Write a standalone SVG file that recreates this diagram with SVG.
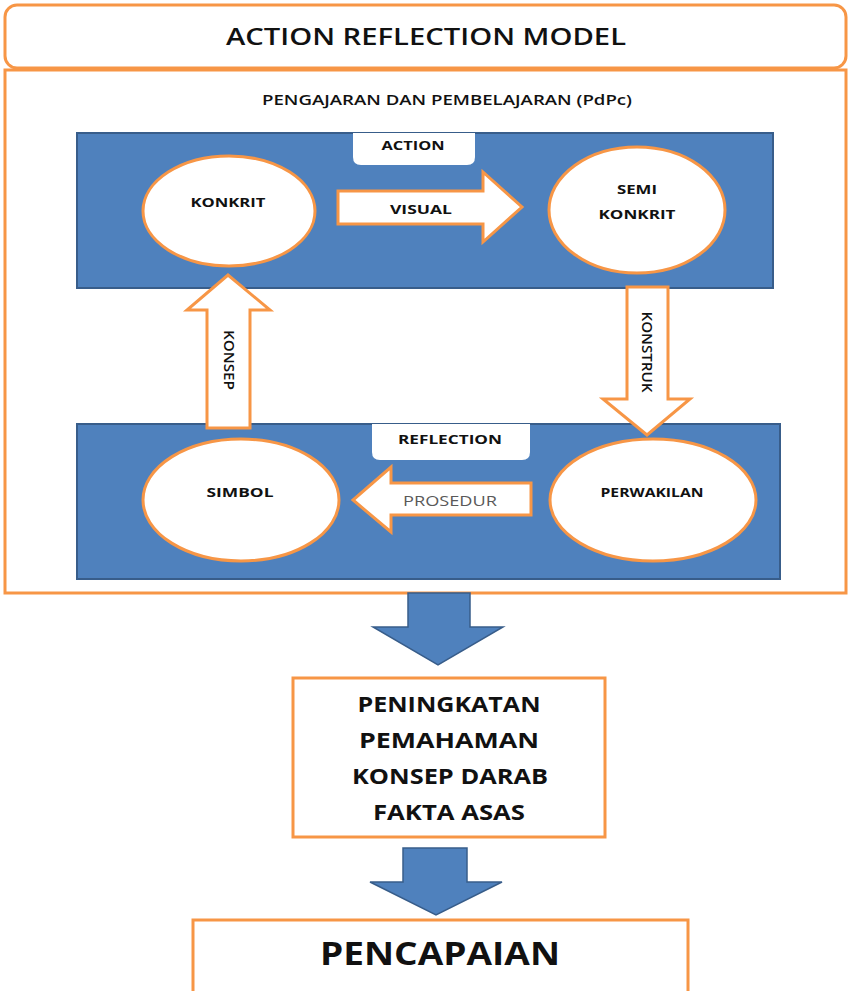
<svg xmlns="http://www.w3.org/2000/svg" width="849" height="991" viewBox="0 0 849 991">
<style>
.ob{fill:#fff;stroke:#F79646;stroke-width:3}
.blue{fill:#4F81BD;stroke:#385D8A;stroke-width:2}
.arr{fill:#fff;stroke:#F79646;stroke-width:3;stroke-linejoin:miter}
.barr{fill:#4F81BD;stroke:#385D8A;stroke-width:1.5}
text{font-family:"Open Sans","Liberation Sans",sans-serif;fill:#111;text-anchor:middle;dominant-baseline:central}
.s{font-size:13px;font-weight:700}
.r{font-size:14px;font-weight:600}
.b{font-weight:700}
</style>
<rect width="849" height="991" fill="#fff"/>
<g id="title">
<rect class="ob" x="5" y="5" width="841" height="63" rx="12"/>
<text x="426" y="35" font-size="24" font-weight="600" textLength="400" lengthAdjust="spacingAndGlyphs">ACTION REFLECTION MODEL</text>
</g>
<g id="pdpc">
<rect class="ob" x="5" y="70" width="841" height="523"/>
<text x="447" y="99" font-size="14" font-weight="600" textLength="370" lengthAdjust="spacingAndGlyphs">PENGAJARAN DAN PEMBELAJARAN (PdPc)</text>
</g>
<g id="action">
<rect class="blue" x="77" y="133" width="696" height="155"/>
<path d="M353,133 H475 V157 Q475,165 467,165 H361 Q353,165 353,157 Z" fill="#fff"/>
<text class="s" x="413" y="145" textLength="63" lengthAdjust="spacingAndGlyphs">ACTION</text>
</g>
<g id="reflection">
<rect class="blue" x="77" y="424" width="703" height="155"/>
<path d="M372,424 H530 V452 Q530,460 522,460 H380 Q372,460 372,452 Z" fill="#fff"/>
<text class="s" x="450" y="439" textLength="104" lengthAdjust="spacingAndGlyphs">REFLECTION</text>
</g>
<g id="connectors">
<g id="visual">
<path class="arr" d="M338,191 H483 V172 L522,207 L483,242 V224 H338 Z"/>
<text class="s" x="421" y="209" textLength="62" lengthAdjust="spacingAndGlyphs">VISUAL</text>
</g>
<g id="konstruk">
<path class="arr" d="M627,287 H668 V399 H690 L647,435 L603,399 H627 Z"/>
<text class="r" transform="translate(647,352) rotate(90)" x="0" y="0" textLength="81" lengthAdjust="spacingAndGlyphs">KONSTRUK</text>
</g>
<g id="prosedur">
<path class="arr" d="M531,483 V515 H391 V532 L353,500 L391,467 V483 Z"/>
<text x="450" y="500" font-size="14" style="fill:#595959" textLength="94" lengthAdjust="spacingAndGlyphs">PROSEDUR</text>
</g>
<g id="konsep">
<path class="arr" d="M207,428 V310 H187 L228,275 L270,310 H250 V428 Z"/>
<text class="r" transform="translate(229,360) rotate(90)" x="0" y="0" textLength="60" lengthAdjust="spacingAndGlyphs">KONSEP</text>
</g>
<path id="down1" class="barr" d="M408,593 H470 V627 H503 L438,665 L373,627 H408 Z"/>
<path id="down2" class="barr" d="M403,848 H467 V882 H502 L436,915 L370,882 H403 Z"/>
</g>
<g id="konkrit">
<ellipse class="ob" cx="229" cy="211" rx="86" ry="55"/>
<text class="s" x="228" y="202" textLength="75" lengthAdjust="spacingAndGlyphs">KONKRIT</text>
</g>
<g id="semikonkrit">
<ellipse class="ob" cx="637" cy="210" rx="88" ry="63"/>
<text class="s" x="637" y="189" textLength="40" lengthAdjust="spacingAndGlyphs">SEMI</text>
<text class="s" x="637" y="214" textLength="77" lengthAdjust="spacingAndGlyphs">KONKRIT</text>
</g>
<g id="simbol">
<ellipse class="ob" cx="241" cy="500" rx="98" ry="61"/>
<text class="s" x="240" y="492" textLength="67" lengthAdjust="spacingAndGlyphs">SIMBOL</text>
</g>
<g id="perwakilan">
<ellipse class="ob" cx="653" cy="500" rx="103" ry="61"/>
<text class="s" x="652" y="492" textLength="103" lengthAdjust="spacingAndGlyphs">PERWAKILAN</text>
</g>
<g id="peningkatan">
<rect class="ob" x="293" y="678" width="312" height="159"/>
<text class="b" x="449" y="703" font-size="22" textLength="183" lengthAdjust="spacingAndGlyphs">PENINGKATAN</text>
<text class="b" x="449" y="739" font-size="22" textLength="180" lengthAdjust="spacingAndGlyphs">PEMAHAMAN</text>
<text class="b" x="450" y="775" font-size="22" textLength="196" lengthAdjust="spacingAndGlyphs">KONSEP DARAB</text>
<text class="b" x="449" y="811" font-size="22" textLength="152" lengthAdjust="spacingAndGlyphs">FAKTA ASAS</text>
</g>
<g id="pencapaian">
<rect class="ob" x="193" y="920" width="495" height="80"/>
<text class="b" x="440" y="952" font-size="32" textLength="240" lengthAdjust="spacingAndGlyphs">PENCAPAIAN</text>
</g>
</svg>
